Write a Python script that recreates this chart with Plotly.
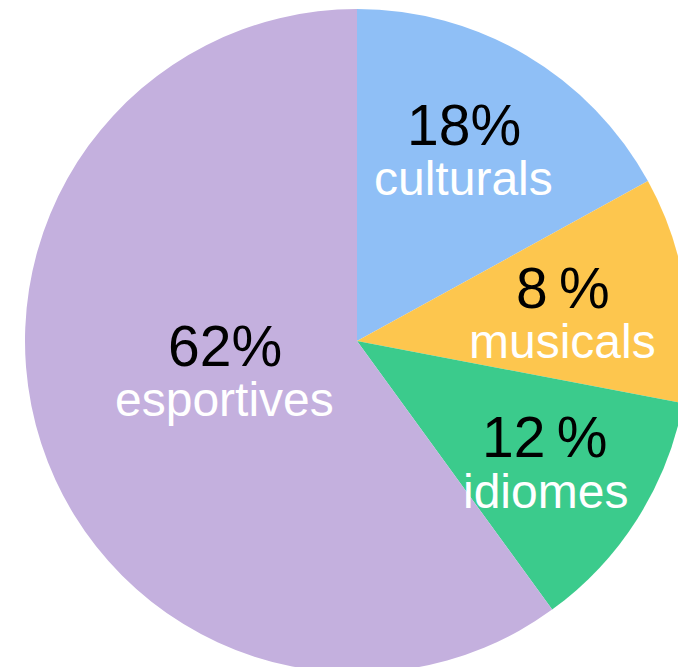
import math
import plotly.graph_objects as go

# Data
categories = ["culturals", "musicals", "idiomes", "esportives"]
values = [17, 11, 12, 60]               # slice sizes as drawn
pct_labels = ["18%", "8\u2009%", "12\u2009%", "62%"]  # percentages printed on the chart
colors = ["#8FBFF6", "#FDC64E", "#3BCB8C", "#C4B0DE"]

# label placement (fraction of radius, angular nudge in degrees)
label_radius = [0.652, 0.625, 0.68, 0.41]
label_nudge = [-1, 2, 1, 4]

W, H = 689, 673
ML, MT = 25, 9
D = 664  # pie domain size in px
CX, CY, R = ML + D / 2, MT + D / 2, D / 2

fig = go.Figure(go.Pie(
    labels=categories,
    values=values,
    sort=False,
    direction="clockwise",
    rotation=0,
    marker=dict(colors=colors, line=dict(width=0)),
    textinfo="none",
    hoverinfo="skip",
    showlegend=False,
))

total = sum(values)
cum = 0
annotations = []
for name, v, pct, rf, nd in zip(categories, values, pct_labels, label_radius, label_nudge):
    mid = (cum + v / 2) / total * 360 + nd
    cum += v
    px = CX + rf * R * math.sin(math.radians(mid))
    py = CY - rf * R * math.cos(math.radians(mid))
    for txt, dy, size, col in [(pct, -28, 57, "black"), (name, 26, 48, "white")]:
        annotations.append(dict(
            x=(px - ML) / D, y=1 - (py + dy - MT) / D,
            xref="paper", yref="paper",
            text=txt, showarrow=False,
            xanchor="center", yanchor="middle",
            font=dict(family="Liberation Sans, Arial, sans-serif", size=size, color=col),
        ))

fig.update_layout(
    width=W, height=H,
    margin=dict(l=ML, r=0, t=MT, b=0),
    paper_bgcolor="white",
    plot_bgcolor="white",
    annotations=annotations,
)

fig.write_html(
    "out.html",
    config={"displayModeBar": False},
    post_script="document.body.style.margin='0';document.body.style.overflow='hidden';",
)
